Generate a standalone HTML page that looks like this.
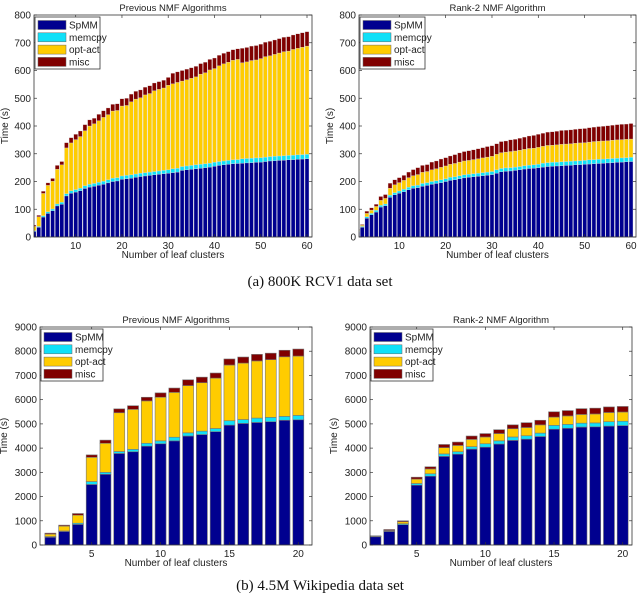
<!DOCTYPE html>
<html><head><meta charset="utf-8">
<style>
body{margin:0;background:#fff;width:640px;height:593px;overflow:hidden}
svg text{font-family:"Liberation Sans",sans-serif;fill:#222}
.cap{font-family:"Liberation Serif",serif;font-size:15px;fill:#111}
</style></head>
<body>
<svg id="fig" width="640" height="593" viewBox="0 0 640 593" xmlns="http://www.w3.org/2000/svg">
<text class="cap" x="320" y="286" text-anchor="middle">(a) 800K RCV1 data set</text>
<text class="cap" x="320" y="590" text-anchor="middle">(b) 4.5M Wikipedia data set</text>
</svg>
<script>
// ---- Panel A1: RCV1 previous NMF ----
const catsA = Array.from({length:60},(_,i)=>i+1);
const a1Spmm=[20,35,72,85,95,112,118,148,158,162,167,175,180,183,187,190,195,200,202,208,210,212,215,218,220,222,224,226,228,230,232,234,240,242,244,246,248,250,252,255,258,260,262,264,265,266,267,268,269,270,272,274,275,276,277,278,279,280,281,282];
const a1Mem=[3,3,5,6,6,7,7,8,9,9,9,10,10,10,10,11,11,12,12,12,12,12,12,12,12,12,12,12,12,12,14,14,14,14,14,14,14,14,14,14,14,14,14,14,14,16,16,16,16,16,16,16,16,16,16,16,16,16,16,16];
const a1Opt=[15,35,80,95,100,125,135,165,172,180,186,198,210,215,222,230,235,242,242,252,252,263,270,272,280,283,291,294,297,305,306,309,308,311,314,317,325,328,336,338,345,350,354,359,361,346,348,352,353,357,362,363,367,371,375,376,381,384,387,390];
const a1Misc=[5,5,8,9,10,14,12,19,19,19,20,22,22,20,23,24,24,24,24,26,26,28,28,28,28,28,28,28,28,28,38,38,38,38,38,38,38,38,38,38,38,38,38,38,38,52,52,52,52,52,52,52,52,52,52,52,52,52,52,52];
// ---- Panel A2: RCV1 rank-2 ----
const a2Spmm=[18,35,68,80,90,108,113,143,152,158,163,170,176,178,183,186,190,193,196,200,204,206,210,213,215,217,219,221,223,225,230,235,237,238,240,242,245,247,248,250,252,254,255,256,257,258,259,260,261,262,263,264,265,266,267,268,269,270,271,272];
const a2Mem=[3,3,5,5,6,6,6,8,8,8,9,9,9,9,10,10,10,10,10,10,11,11,11,11,11,11,11,11,11,11,12,12,12,12,12,12,12,12,12,12,14,14,14,14,14,14,14,14,14,14,15,15,15,15,15,15,15,15,15,15];
const a2Opt=[4,4,12,12,14,18,20,25,28,30,32,35,36,38,40,40,42,43,45,46,47,48,49,50,50,51,52,53,54,55,56,57,57,58,58,59,59,60,60,61,61,62,62,62,63,63,63,64,64,64,64,65,65,65,65,66,66,66,66,66];
const a2Misc=[3,3,8,8,8,14,14,18,18,18,18,20,22,25,25,25,28,28,30,30,30,32,33,34,35,35,36,37,38,38,38,40,40,42,42,43,44,45,46,47,47,48,48,49,50,50,50,50,51,51,52,52,53,53,54,54,55,55,55,56];
// ---- Panel B1: Wikipedia previous NMF ----
const catsB=[2,3,4,5,6,7,8,9,10,11,12,13,14,15,16,17,18,19,20];
const b1Spmm=[320,560,850,2500,2920,3780,3850,4080,4180,4300,4500,4560,4680,4950,5020,5060,5090,5150,5170];
const b1Mem=[30,20,50,120,80,80,100,120,120,150,130,140,130,180,160,180,180,160,180];
const b1Opt=[100,200,330,1000,1200,1600,1650,1750,1800,1850,1950,2000,2080,2300,2330,2360,2380,2460,2450];
const b1Misc=[40,40,70,100,130,160,150,150,180,180,240,230,210,250,250,270,270,270,290];
// ---- Panel B2: Wikipedia rank-2 ----
const b2Spmm=[340,560,840,2470,2840,3660,3750,3960,4040,4170,4320,4370,4480,4780,4820,4870,4880,4910,4930];
const b2Mem=[10,20,40,70,100,100,100,100,140,130,140,140,140,160,160,160,160,180,180];
const b2Opt=[10,20,80,180,200,260,260,300,280,300,340,340,340,340,350,360,370,380,380];
const b2Misc=[20,40,40,80,90,130,140,140,140,160,160,200,190,220,220,240,240,230,230];
const ticksA=[10,20,30,40,50,60], ticksAY=[0,100,200,300,400,500,600,700,800];
const ticksB=[5,10,15,20], ticksBY=[0,1000,2000,3000,4000,5000,6000,7000,8000,9000];
const seriesNames=['SpMM','memcpy','opt-act','misc'];
const colors=['#00008f','#10e0f8','#ffcc00','#800000'];

const NS='http://www.w3.org/2000/svg';
const fig=document.getElementById('fig');
function mk(tag,attrs,parent){const e=document.createElementNS(NS,tag);for(const k in attrs)e.setAttribute(k,attrs[k]);(parent||fig).appendChild(e);return e;}

function panel(p){
  const g=mk('g',{});
  
  
  const xs=v=>p.x0+(v-p.t0)*(p.x1-p.x0)/(p.t1-p.t0);
  const ys=v=>p.bottom-(v/p.ymax)*(p.bottom-p.top);
  const clip=mk('clipPath',{id:'c'+p.name},g);
  mk('rect',{x:p.L,y:p.top,width:p.R-p.L,height:p.bottom-p.top},clip);
  const bars=mk('g',{'clip-path':'url(#c'+p.name+')'},g);
  const unit=(p.x1-p.x0)/(p.t1-p.t0);
  const bw=unit*p.bwf;
  p.cats.forEach((c,i)=>{
    let acc=0;
    p.series.forEach((s,j)=>{
      const v=s[i];
      const r=mk('rect',{x:xs(c)-bw/2,y:ys(acc+v),width:bw,height:ys(acc)-ys(acc+v),fill:colors[j],stroke:p.edge,'stroke-width':p.edgeW},bars);
      
      
      acc+=v;
    });
  });
  const frame=mk('rect',{x:p.L,y:p.top,width:p.R-p.L,height:p.bottom-p.top,fill:'none',stroke:'#333','stroke-width':0.8},g);
  
  
  p.yt.forEach(v=>{
    const y=ys(v);
    mk('line',{x1:p.L,x2:p.L+3,y1:y,y2:y,stroke:'#333','stroke-width':0.7},g);
    mk('line',{x1:p.R,x2:p.R-3,y1:y,y2:y,stroke:'#333','stroke-width':0.7},g);
    const t=mk('text',{x:p.L-3,y:y+3.5,'text-anchor':'end','font-size':10},g);
    t.textContent=v;
    
    
  });
  p.xt.forEach(v=>{
    const x=xs(v);
    mk('line',{x1:x,x2:x,y1:p.bottom,y2:p.bottom-3,stroke:'#333','stroke-width':0.7},g);
    mk('line',{x1:x,x2:x,y1:p.top,y2:p.top+3,stroke:'#333','stroke-width':0.7},g);
    const t=mk('text',{x:x,y:p.bottom+12,'text-anchor':'middle','font-size':10},g);
    t.textContent=v;
    
    
  });
  const xl=mk('text',{x:(p.L+p.R)/2,y:p.bottom+21,'text-anchor':'middle','font-size':10},g);
  xl.textContent='Number of leaf clusters';
  
  
  const yl=mk('text',{x:0,y:0,'text-anchor':'middle','font-size':10,transform:`translate(${p.L-p.ylOff},${(p.top+p.bottom)/2}) rotate(-90)`},g);
  yl.textContent='Time (s)';
  
  
  const tt=mk('text',{x:(p.L+p.R)/2,y:p.top-4,'text-anchor':'middle','font-size':9.5},g);
  tt.textContent=p.title;
  
  
  // legend
  const lg=mk('g',{},g);
  
  
  mk('rect',{x:p.L+1,y:p.top+2,width:p.lgW,height:52,fill:'#fff',stroke:'#333','stroke-width':0.8},lg);
  seriesNames.forEach((n,j)=>{
    const cy=p.top+10+j*12.3;
    const sw=mk('rect',{x:p.L+4,y:cy-4.5,width:28,height:9,fill:colors[j],stroke:'#666','stroke-width':0.5},lg);
    
    
    const t=mk('text',{x:p.L+35,y:cy+3.5,'font-size':10},lg);
    t.textContent=n;
    
    
  });
}

panel({name:'chart-rcv1-previous',title:'Previous NMF Algorithms',L:34,R:312,top:15,bottom:237,x0:75.7,x1:307,t0:10,t1:60,ymax:800,cats:catsA,series:[a1Spmm,a1Mem,a1Opt,a1Misc],xt:ticksA,yt:ticksAY,bwf:0.85,edge:'#ddd',edgeW:0.3,lgW:65,ylOff:26});
panel({name:'chart-rcv1-rank2',title:'Rank-2 NMF Algorithm',L:359,R:636,top:15,bottom:237,x0:399.3,x1:631,t0:10,t1:60,ymax:800,cats:catsA,series:[a2Spmm,a2Mem,a2Opt,a2Misc],xt:ticksA,yt:ticksAY,bwf:0.85,edge:'#ddd',edgeW:0.3,lgW:65,ylOff:26});
panel({name:'chart-wiki-previous',title:'Previous NMF Algorithms',L:40,R:312,top:327,bottom:545,x0:91.7,x1:298.3,t0:5,t1:20,ymax:9000,cats:catsB,series:[b1Spmm,b1Mem,b1Opt,b1Misc],xt:ticksB,yt:ticksBY,bwf:0.8,edge:'#777',edgeW:0.6,lgW:62,ylOff:33});
panel({name:'chart-wiki-rank2',title:'Rank-2 NMF Algorithm',L:370,R:632,top:327,bottom:545,x0:416.7,x1:622.7,t0:5,t1:20,ymax:9000,cats:catsB,series:[b2Spmm,b2Mem,b2Opt,b2Misc],xt:ticksB,yt:ticksBY,bwf:0.8,edge:'#777',edgeW:0.6,lgW:62,ylOff:33});
</script>
</body></html>
